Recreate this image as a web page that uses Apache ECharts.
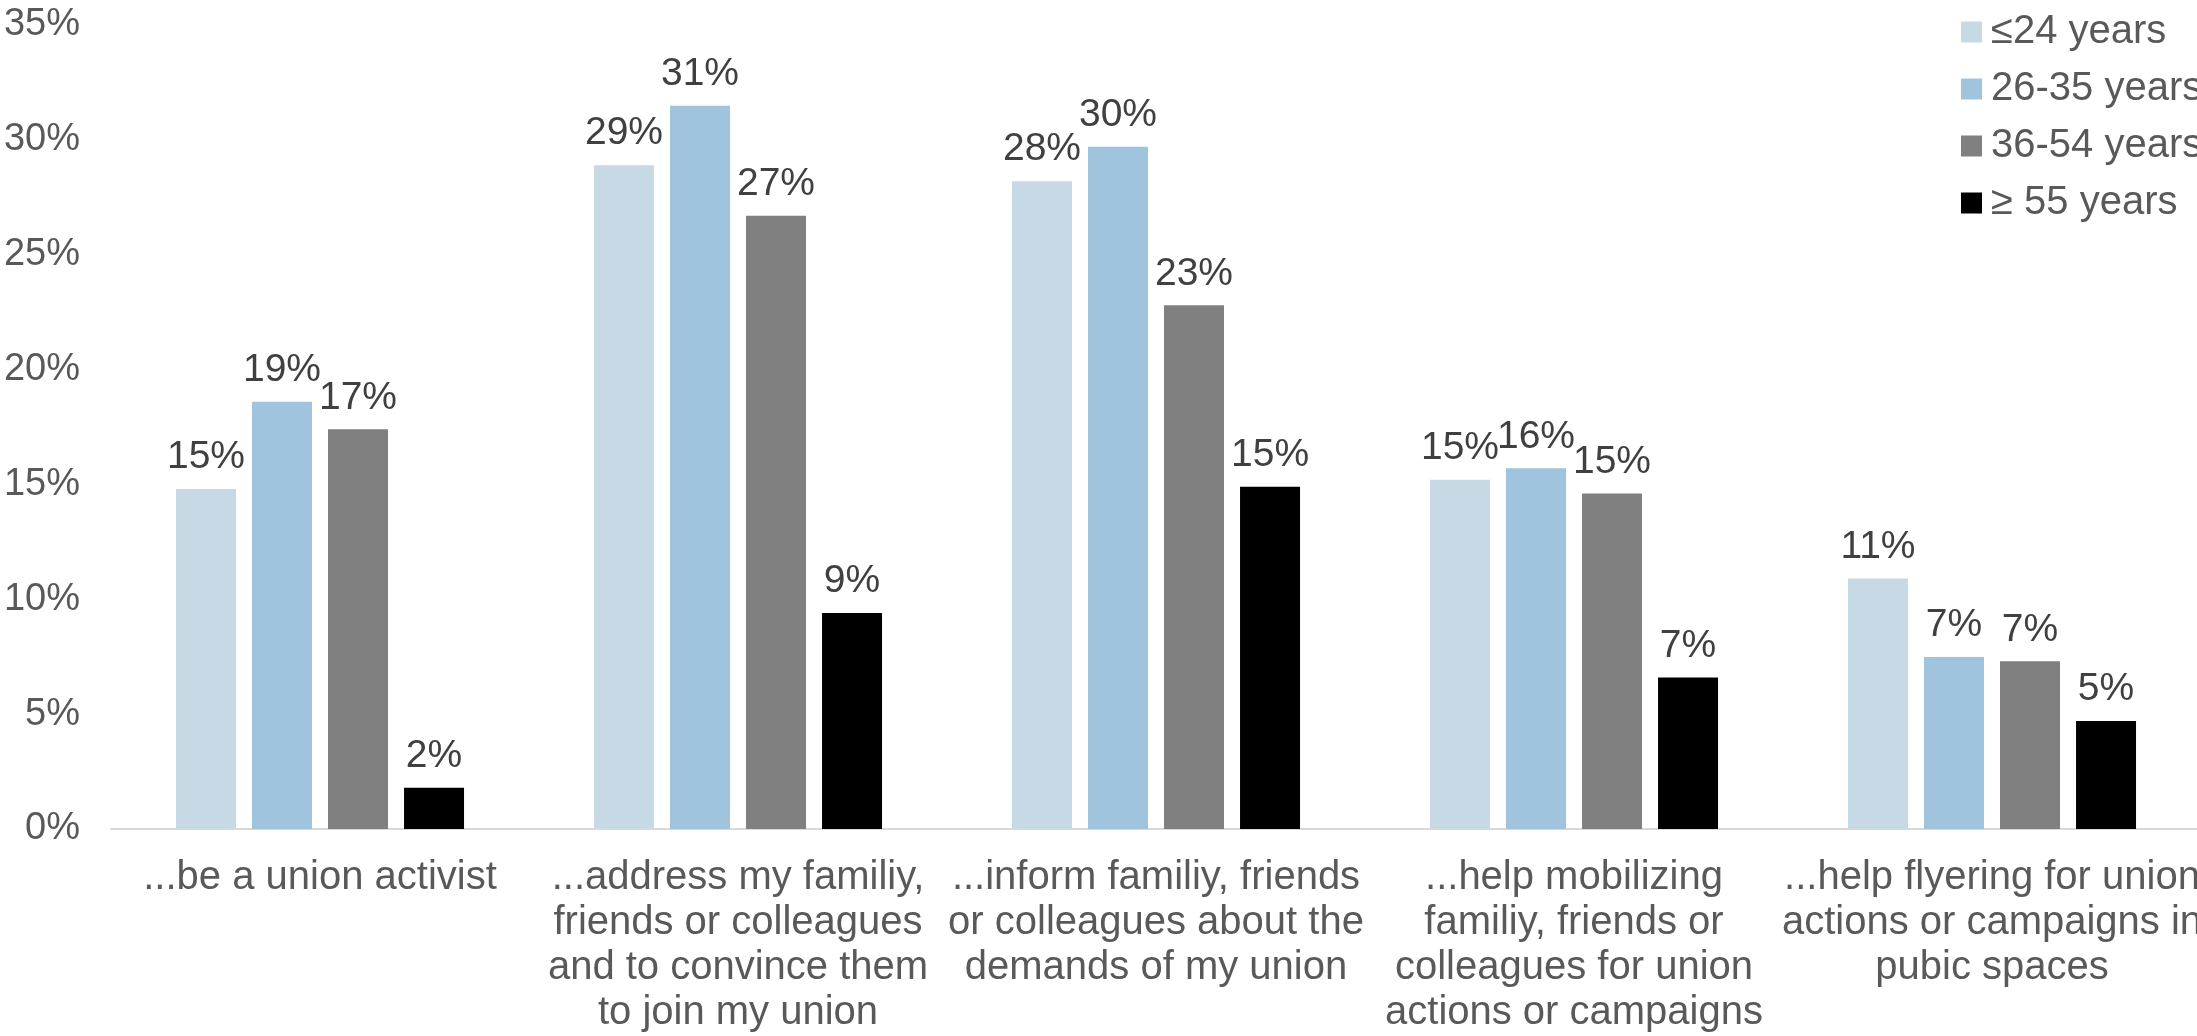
<!DOCTYPE html>
<html>
<head>
<meta charset="utf-8">
<script src="https://cdn.jsdelivr.net/npm/echarts@6/dist/echarts.min.js"></script>
<style>
  html, body { margin: 0; padding: 0; background: #ffffff; }
  #chart { width: 2197px; height: 1036px; }
</style>
</head>
<body>
<div id="chart"></div>
<script>
// Share of respondents willing to ... (by age group), in percent
const categories = [
  '...be a union activist',
  '...address my familiy,\nfriends or colleagues\nand to convince them\nto join my union',
  '...inform familiy, friends\nor colleagues about the\ndemands of my union',
  '...help mobilizing\nfamiliy, friends or\ncolleagues for union\nactions or campaigns',
  '...help flyering for union\nactions or campaigns in\npubic spaces'
];
const seriesNames = ['\u226424 years', '26-35 years', '36-54 years', '\u2265 55 years'];
const age24 = [14.8, 28.9, 28.2, 15.2, 10.9];
const age26to35 = [18.6, 31.49, 29.7, 15.7, 7.49];
const age36to54 = [17.4, 26.7, 22.8, 14.6, 7.3];
const age55plus = [1.8, 9.4, 14.9, 6.6, 4.7];
const yTicks = { min: 0, max: 35, step: 5 };

const colors = ['#C6D9E5', '#A0C3DE', '#808080', '#000000'];
const values = [age24, age26to35, age36to54, age55plus];
const font = '"Liberation Sans", Arial, sans-serif';

const chart = echarts.init(document.getElementById('chart'));
chart.setOption({
  animation: false,
  textStyle: { fontFamily: font },
  grid: {
    left: 111, top: 25, width: 2090, bottom: 207,
    containLabel: false,
    outerBoundsMode: 'none'
  },
  legend: {
    orient: 'vertical',
    left: 1961,
    top: 12,
    padding: 0,
    itemWidth: 21,
    itemHeight: 21,
    itemGap: 17,
    icon: 'rect',
    textStyle: { fontSize: 40, color: '#595959', fontFamily: font, padding: [0, 0, 0, 4] },
    data: seriesNames
  },
  xAxis: {
    type: 'category',
    data: categories,
    axisLine: { lineStyle: { color: '#D9D9D9', width: 2 } },
    axisTick: { show: false },
    axisLabel: {
      interval: 0,
      margin: 26,
      fontSize: 40,
      lineHeight: 45,
      color: '#595959',
      fontFamily: font,
      align: 'center'
    }
  },
  yAxis: {
    type: 'value',
    min: yTicks.min,
    max: yTicks.max,
    interval: yTicks.step,
    axisLine: { show: false },
    axisTick: { show: false },
    splitLine: { show: false },
    axisLabel: {
      margin: 31,
      fontSize: 38,
      color: '#595959',
      fontFamily: font,
      formatter: '{value}%'
    }
  },
  series: seriesNames.map((name, i) => ({
    name: name,
    type: 'bar',
    data: values[i],
    barWidth: 60,
    barGap: '26.7%',
    itemStyle: { color: colors[i] },
    label: {
      show: true,
      position: 'top',
      distance: 12,
      fontSize: 39,
      color: '#404040',
      fontFamily: font,
      formatter: p => Math.round(p.value) + '%'
    }
  }))
});
</script>
</body>
</html>
